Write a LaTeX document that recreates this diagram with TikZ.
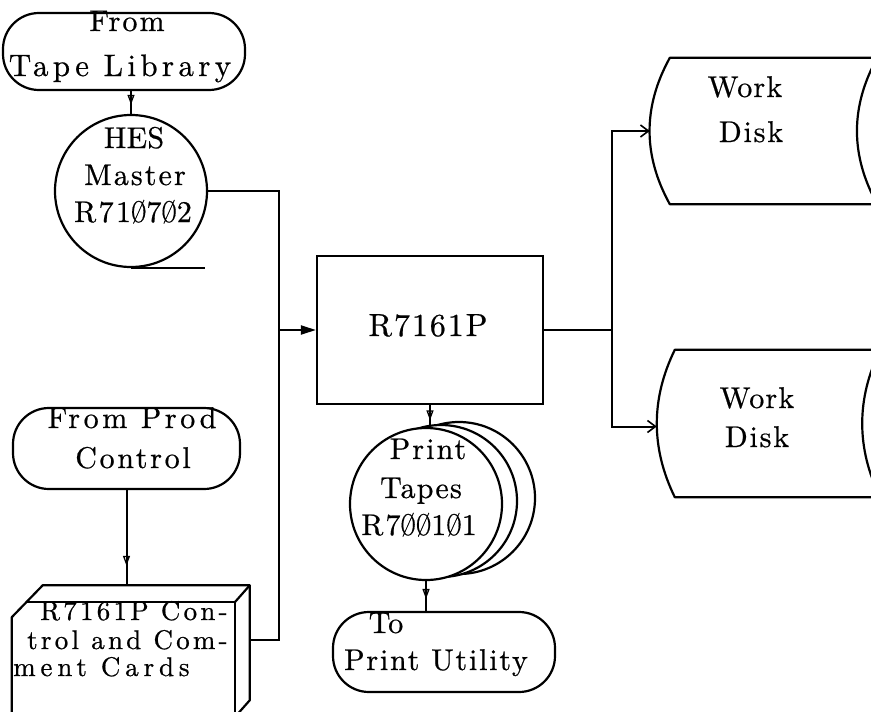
\documentclass[tikz,border=0pt]{standalone}
\usepackage{fontspec}
\setmainfont{lmroman10-regular.otf}[LetterSpace=7, FakeBold=0.6]
\usetikzlibrary{arrows.meta,decorations.markings,calc}

% slashed zero of the typewriter, as a narrowed Ø
\newcommand{\slz}{\scalebox{0.66}[1]{Ø}}
\newcommand{\ls}[1]{\addfontfeatures{LetterSpace=#1}}

\begin{document}
\begin{tikzpicture}[x=1pt,y=-1pt,
  conn/.style={line width=2pt},
  shp/.style={draw, line width=2.2pt, inner sep=0pt},
  term/.style={shp, rounded corners=36pt, fill=white},
  tape/.style={shp, circle, fill=white, minimum size=152pt},
  edge/.style={line width=2.2pt, line join=round},
  txt/.style={inner sep=0pt, anchor=base, font=\fontsize{30}{32}\selectfont},
  midarrow/.style={postaction={decorate, decoration={markings,
      mark=at position #1 with {\arrow{Triangle[open,length=10pt,width=7pt,line width=1.3pt]}}}}},
  midarrow/.default=0.5,
  intip/.style={-{Triangle[length=15pt,width=9pt]}},
  barbtip/.style={-{Straight Barb[length=8pt,width=12pt,line width=1.6pt]}},
]
\useasboundingbox (0,0) rectangle (871,712);
\fill[white] (0,0) rectangle (871,712);
\begin{scope}
\clip (0,0) rectangle (871,712);

% ---------- input side ----------
\node[term, minimum width=242pt, minimum height=77pt] (tapelib) at (124,51.5) {};
\node[tape] (hes) at (131,191) {};
\draw[edge] (hes.south) -- ++(74,0);

\node[term, minimum width=227pt, minimum height=81pt] (prod) at (126.5,448.5) {};

% punched card deck (front face plus depth)
\node[inner sep=0pt, minimum width=223pt, minimum height=116pt] (card) at (123.5,660) {};
\draw[edge] (card.south west) -- ++(0,-101) -- ++(31,-32) -- ++(207,0)
  -- ++(0,115) -- ++(-15,17);
\draw[edge] ($(card.north west)+(14.5,0)$) -- (card.north east) -- (card.south east);
\draw[edge] (card.north east) -- ++(15,-17);
\coordinate (cardtop) at ($(card.north)+(0,-17)$);
\coordinate (cardout) at ($(card.north east)+(15,38)$);

% ---------- program ----------
\node[shp, minimum width=226pt, minimum height=148pt] (prog) at (430,330) {};

% ---------- print tapes (stacked reels) ----------
\node[tape] (ptape3) at (459,498) {};
\node[tape] (ptape2) at (441,501) {};
\node[tape] (ptape) at (426,504) {};
\node[term, minimum width=222pt, minimum height=80pt] (putil) at (444,652) {};

% ---------- work disks ----------
\node[inner sep=0pt, minimum width=207pt, minimum height=146pt] (disk1) at (773.5,131) {};
\draw[edge] (disk1.north west) -- (disk1.north east)
  .. controls +(-27,49) and +(-27,-49) .. (disk1.south east)
  -- (disk1.south west)
  .. controls +(-27,-49) and +(-27,49) .. (disk1.north west) -- cycle;
\node[inner sep=0pt, minimum width=205pt, minimum height=147pt] (disk2) at (777.5,423.5) {};
\draw[edge] (disk2.north west) -- (disk2.north east)
  .. controls +(-24,49) and +(-24,-49) .. (disk2.south east)
  -- (disk2.south west)
  .. controls +(-24,-49) and +(-24,49) .. (disk2.north west) -- cycle;

% ---------- connectors ----------
\coordinate (jl) at ($(prog.west)+(-37,0)$);
\coordinate (jr) at ($(prog.east)+(68,0)$);
\coordinate (d1in) at ($(disk1.west)+(-20,0)$);
\coordinate (d2in) at ($(disk2.west)+(-18,3)$);

\draw[conn, midarrow=0.6] (tapelib.south -| hes.north) -- (hes.north);
\draw[conn, midarrow=0.8] (prod.south) -- (prod.south |- cardtop);
\draw[conn] (hes.east) -| (jl);
\draw[conn] (cardout) -| (jl);
\draw[conn, intip] (jl) -- (prog.west);
\draw[conn] (prog.east) -- (jr);
\draw[conn, barbtip] (jr) |- (d1in);
\draw[conn, barbtip] (jr) |- (d2in);
\draw[conn, midarrow=0.7] (prog.south) -- (prog.south |- ptape.north);
\draw[conn, midarrow=0.6] (ptape.south) -- (ptape.south |- putil.north);

% ---------- labels ----------
\node[txt] (l-from) at (127,31) {From};
\node[txt, font=\fontsize{31}{32}\selectfont\ls{14}] (l-tapelib) at (120,76) {Tape Library};

\node[txt, font=\fontsize{30}{32}\selectfont\ls{1}] (l-hes) at (134,148) {HES};
\node[txt] (l-master) at (135,185) {Master};
\node[txt, font=\fontsize{30}{32}\selectfont\ls{8}] (l-hesnum) at (133,222) {R71\slz7\slz2};

\node[txt, font=\fontsize{30}{32}\selectfont\ls{12}] (l-prod) at (132,428) {From Prod};
\node[txt, font=\fontsize{30}{32}\selectfont\ls{9}] (l-control) at (133,468) {Control};

\node[txt, anchor=base west, font=\fontsize{27}{28}\selectfont\ls{12}] (l-card1) at (40,620) {R7161P Con-};
\node[txt, anchor=base west, font=\fontsize{27}{28}\selectfont\ls{12}] (l-card2) at (27,649) {trol and Com-};
\node[txt, anchor=base west, font=\fontsize{27}{28}\selectfont\ls{18}] (l-card3) at (13,676) {ment Cards};

\node[txt, font=\fontsize{32}{34}\selectfont\ls{6}] (l-prog) at (428,336) {R7161P};

\node[txt, font=\fontsize{30}{32}\selectfont\ls{4}] (l-work1) at (745,97) {Work};
\node[txt, font=\fontsize{30}{32}\selectfont\ls{6}] (l-disk1) at (751,142) {Disk};
\node[txt, font=\fontsize{30}{32}\selectfont\ls{4}] (l-work2) at (757,408) {Work};
\node[txt, font=\fontsize{30}{32}\selectfont\ls{6}] (l-disk2) at (757,447) {Disk};

\node[txt] (l-print) at (428,459) {Print};
\node[txt, font=\fontsize{30}{32}\selectfont\ls{4}] (l-tapes) at (421,498) {Tapes};
\node[txt] (l-ptnum) at (419,535) {R7\slz\slz1\slz1};

\node[txt, font=\fontsize{30}{32}\selectfont\ls{1}] (l-to) at (386,633) {To};
\node[txt, font=\fontsize{30}{32}\selectfont\ls{6}] (l-util) at (436,670) {Print Utility};
\end{scope}
\end{tikzpicture}
\end{document}
